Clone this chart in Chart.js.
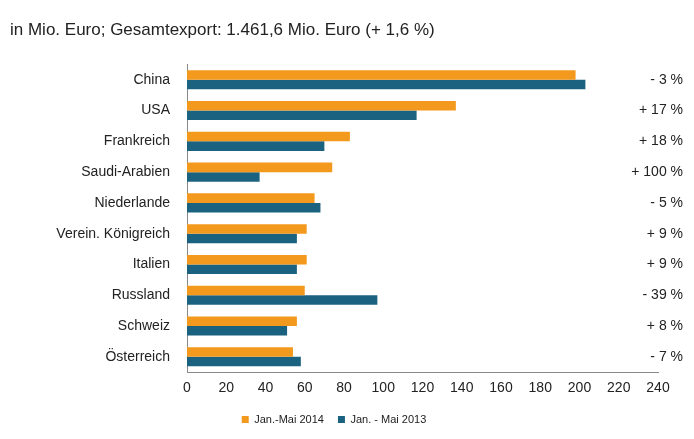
<!DOCTYPE html>
<html lang="de">
<head>
<meta charset="UTF-8" />
<script src="https://cdn.jsdelivr.net/npm/chart.js"></script>
<style>
  body { margin: 0; background: #fff; }
  #wrap { width: 694px; height: 439px; }
</style>
</head>
<body>
<div id="wrap"><canvas id="c" width="694" height="439"></canvas></div>
<script>
const countries = ["China", "USA", "Frankreich", "Saudi-Arabien", "Niederlande",
  "Verein. Königreich", "Italien", "Russland", "Schweiz", "Österreich"];
const values2014 = [198, 137, 83, 74, 65, 61, 61, 60, 56, 54];
const values2013 = [203, 117, 70, 37, 68, 56, 56, 97, 51, 58];
const changes = ["- 3 %", "+ 17 %", "+ 18 %", "+ 100 %", "- 5 %",
  "+ 9 %", "+ 9 %", "- 39 %", "+ 8 %", "- 7 %"];

// percent change column on the right
const changeLabels = {
  id: "changeLabels",
  afterDraw(chart) {
    const ctx = chart.ctx, y = chart.scales.y;
    ctx.save();
    ctx.font = "14px Arial, 'Liberation Sans', sans-serif";
    ctx.fillStyle = "#222";
    ctx.textAlign = "right";
    ctx.textBaseline = "middle";
    changes.forEach((t, i) => ctx.fillText(t, 683, y.getPixelForValue(i)));
    ctx.restore();
  }
};

new Chart(document.getElementById("c"), {
  type: "bar",
  data: {
    labels: countries,
    datasets: [
      { label: "Jan.-Mai 2014", data: values2014, backgroundColor: "#f39a1e",
        categoryPercentage: 0.62, barPercentage: 1 },
      { label: "Jan. - Mai 2013", data: values2013, backgroundColor: "#1b6280",
        categoryPercentage: 0.62, barPercentage: 1 }
    ]
  },
  options: {
    indexAxis: "y",
    responsive: false,
    animation: false,
    layout: { padding: { left: 10, right: 36, top: 0, bottom: 4 } },
    plugins: {
      title: {
        display: true, text: "in Mio. Euro; Gesamtexport: 1.461,6 Mio. Euro (+ 1,6 %)",
        align: "start", color: "#222",
        font: { size: 17, family: "Arial, 'Liberation Sans', sans-serif", weight: "normal" },
        padding: { top: 20, bottom: 24 }
      },
      legend: {
        position: "bottom",
        labels: { boxWidth: 7, boxHeight: 7, color: "#222", padding: 14,
          font: { size: 11, family: "Arial, 'Liberation Sans', sans-serif" } }
      },
      tooltip: { enabled: false }
    },
    scales: {
      x: {
        min: 0, max: 240,
        ticks: { stepSize: 20, color: "#222",
          font: { size: 14, family: "Arial, 'Liberation Sans', sans-serif" } },
        grid: { display: false, drawTicks: true, tickLength: 5, color: "#888" },
        border: { color: "#888" }
      },
      y: {
        afterFit(scale) { scale.width = 177; },
        ticks: { color: "#222", padding: 12,
          font: { size: 14, family: "Arial, 'Liberation Sans', sans-serif" } },
        grid: { display: false, tickLength: 5 },
        border: { color: "#888" }
      }
    }
  },
  plugins: [changeLabels]
});
</script>
</body>
</html>
